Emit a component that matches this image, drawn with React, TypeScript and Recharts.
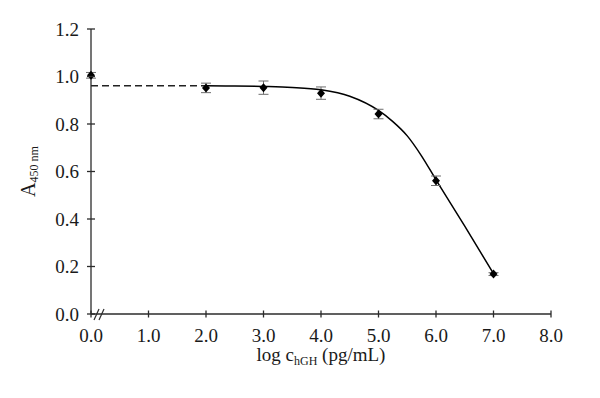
import React from 'react'
import {
  ComposedChart,
  Line,
  Scatter,
  ErrorBar,
  XAxis,
  YAxis,
  Label
} from 'recharts'

// measured points (log concentration, absorbance, SD)
const logConc = [0, 2, 3, 4, 5, 6, 7]
const absorbance = [1.005, 0.952, 0.953, 0.93, 0.842, 0.561, 0.168]
const sd = [0.012, 0.02, 0.028, 0.026, 0.02, 0.02, 0.006]

// fitted curve
const fitX = [2, 2.5, 3, 3.5, 4, 4.5, 5, 5.25, 5.5, 5.75, 6, 6.5, 7]
const fitY = [0.961, 0.96, 0.958, 0.954, 0.944, 0.917, 0.857, 0.81, 0.75, 0.665, 0.565, 0.37, 0.17]

// dashed baseline (zero-dose level)
const baseX = [0, 2]
const baseY = [0.961, 0.961]

const xTicks = [0, 1, 2, 3, 4, 5, 6, 7, 8]
const yTicks = [0, 0.2, 0.4, 0.6, 0.8, 1.0, 1.2]

const points = logConc.map((x, i) => ({ x, y: absorbance[i], err: sd[i] }))
const fitData = fitX.map((x, i) => ({ x, y: fitY[i] }))
const baseData = baseX.map((x, i) => ({ x, y: baseY[i] }))

const axisColor = '#2b2b2b'
const textColor = '#1a1a1a'
const font = '"Liberation Serif", "DejaVu Serif", serif'

const XTick = (props: any) => {
  const { x, y, payload } = props
  return (
    <g>
      <line x1={x} x2={x} y1={y - 3.5} y2={y + 3.5} stroke={axisColor} strokeWidth={1.3} />
      {payload.value === 0 && (
        <g stroke={axisColor} strokeWidth={1.2}>
          <line x1={x + 3} y1={y + 6} x2={x + 8} y2={y - 5} />
          <line x1={x + 8} y1={y + 6} x2={x + 13} y2={y - 5} />
        </g>
      )}
      <text x={x} y={y + 28} textAnchor="middle" fontSize={19} fill={textColor} fontFamily={font}>
        {payload.value.toFixed(1)}
      </text>
    </g>
  )
}

const YTick = (props: any) => {
  const { x, y, payload } = props
  return (
    <g>
      <line x1={x - 4} x2={x + 4} y1={y} y2={y} stroke={axisColor} strokeWidth={1.3} />
      <text x={x - 12} y={y + 6.5} textAnchor="end" fontSize={19} fill={textColor} fontFamily={font}>
        {payload.value.toFixed(1)}
      </text>
    </g>
  )
}

const Diamond = (props: any) => {
  const { cx, cy } = props
  if (cx == null || cy == null) return null
  return (
    <polygon
      points={`${cx},${cy - 4.5} ${cx + 4},${cy} ${cx},${cy + 4.5} ${cx - 4},${cy}`}
      fill="#000"
    />
  )
}

const XTitle = (props: any) => {
  const { viewBox } = props
  const cx = viewBox.x + viewBox.width / 2
  return (
    <text x={cx} y={361} textAnchor="middle" fontSize={19} fill={textColor} fontFamily={font}>
      log c
      <tspan fontSize={12} dy={4}>hGH</tspan>
      <tspan dy={-4}> (pg/mL)</tspan>
    </text>
  )
}

const YTitle = (props: any) => {
  const { viewBox } = props
  const cy = viewBox.y + viewBox.height / 2
  const cx = 35
  return (
    <text
      x={cx}
      y={cy}
      transform={`rotate(-90, ${cx}, ${cy})`}
      textAnchor="middle"
      fontSize={20}
      fill={textColor}
      fontFamily={font}
    >
      A
      <tspan fontSize={12} dy={3}>450 nm</tspan>
    </text>
  )
}

export default function App() {
  return (
    <div style={{ position: 'absolute', left: 0, top: 0, background: '#fff' }}>
      <ComposedChart
        width={600}
        height={398}
        margin={{ top: 29, right: 49, bottom: 24, left: 31 }}
      >
        <XAxis
          type="number"
          dataKey="x"
          domain={[0, 8]}
          ticks={xTicks}
          tickSize={0}
          tickMargin={0}
          tick={<XTick />}
          tickLine={false}
          axisLine={{ stroke: axisColor, strokeWidth: 1.3 }}
          height={60}
          interval={0}
        >
          <Label content={<XTitle />} />
        </XAxis>
        <YAxis
          type="number"
          dataKey="y"
          domain={[0, 1.2]}
          ticks={yTicks}
          tickSize={0}
          tickMargin={0}
          tick={<YTick />}
          tickLine={false}
          axisLine={{ stroke: axisColor, strokeWidth: 1.3 }}
          width={60}
          interval={0}
        >
          <Label content={<YTitle />} />
        </YAxis>
        <Line
          data={baseData}
          dataKey="y"
          type="linear"
          stroke="#222"
          strokeWidth={1.3}
          strokeDasharray="7 4"
          dot={false}
          isAnimationActive={false}
        />
        <Line
          data={fitData}
          dataKey="y"
          type="monotone"
          stroke="#000"
          strokeWidth={1.5}
          dot={false}
          isAnimationActive={false}
        />
        <Scatter data={points} dataKey="y" shape={<Diamond />} isAnimationActive={false}>
          <ErrorBar
            dataKey="err"
            direction="y"
            width={5}
            stroke="#6e6e6e"
            strokeWidth={1}
            isAnimationActive={false}
          />
        </Scatter>
      </ComposedChart>
    </div>
  )
}
